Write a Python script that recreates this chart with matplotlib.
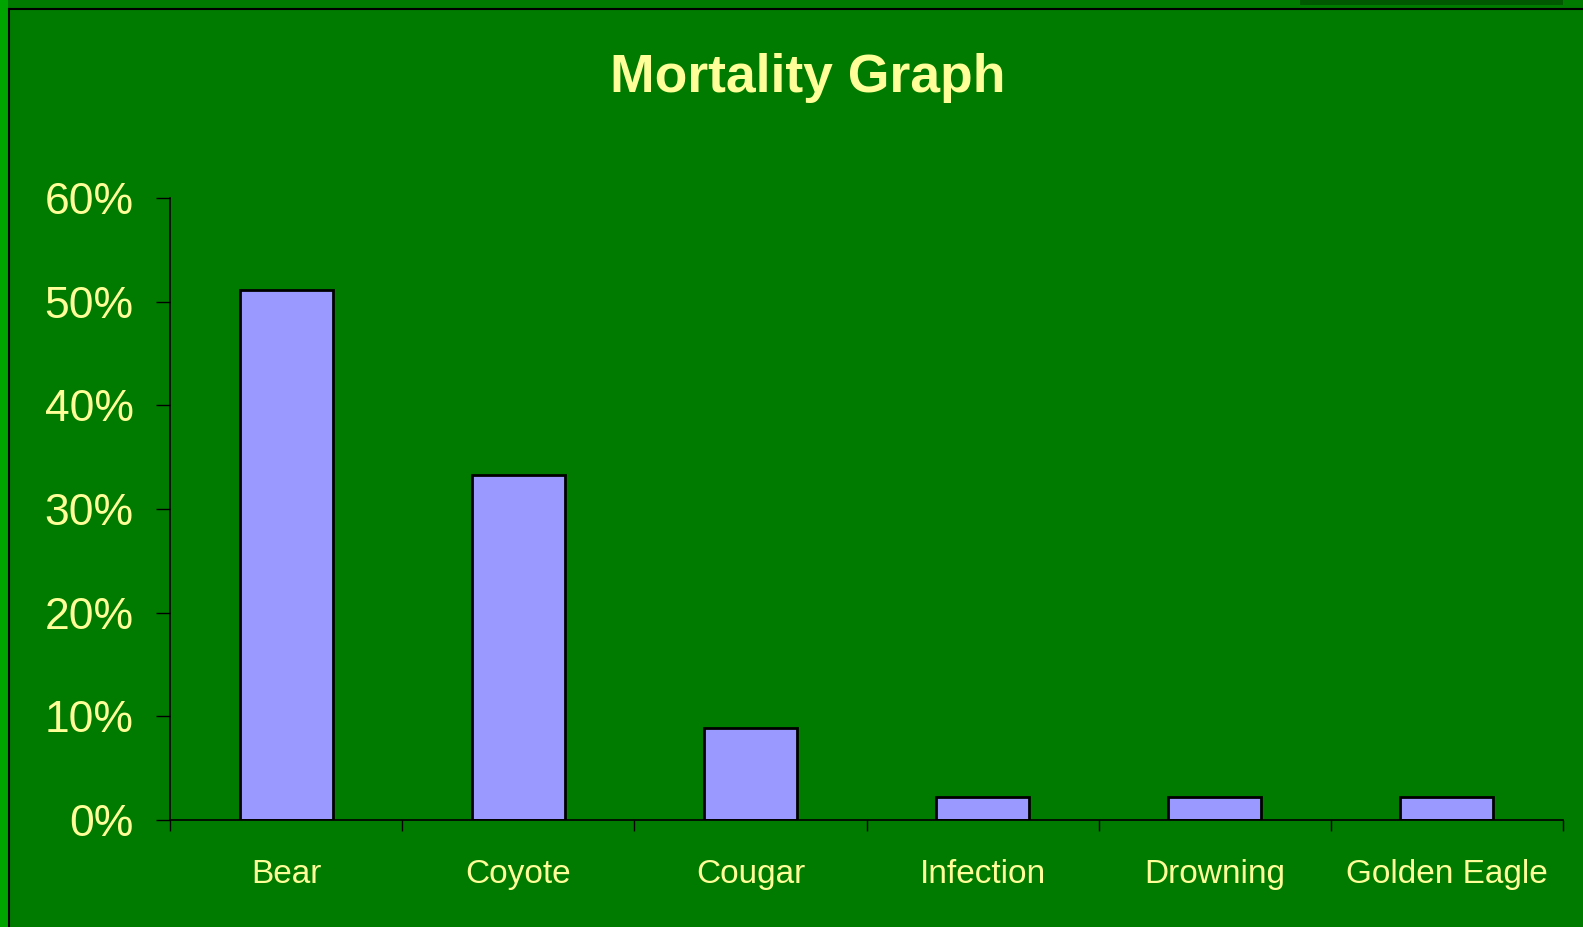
import matplotlib
matplotlib.use('Agg')
import matplotlib.pyplot as plt
from matplotlib.patches import Rectangle
from matplotlib.ticker import FuncFormatter

categories = ['Bear', 'Coyote', 'Cougar', 'Infection', 'Drowning', 'Golden Eagle']
mortality = [51.1, 33.3, 8.9, 2.2, 2.2, 2.2]  # percent
y_ticks = [0, 10, 20, 30, 40, 50, 60]

bg = '#007B00'
txt = '#FFFF99'

plt.rcParams['font.family'] = ['Liberation Sans', 'DejaVu Sans']

W, H = 1583, 927
fig = plt.figure(figsize=(W / 100, H / 100), dpi=100)
fig.patch.set_facecolor(bg)

# slide decoration: bright strip on the left and a thin black frame
fig.add_artist(Rectangle((0, 0), 8 / W, 1, transform=fig.transFigure,
                         facecolor='#00A400', edgecolor='none'))
fig.add_artist(Rectangle((1300 / W, 1 - 5 / H), 263 / W, 5 / H, transform=fig.transFigure,
                         facecolor='#005800', edgecolor='none'))
fig.add_artist(plt.Line2D([8.5 / W, 8.5 / W], [0, 1 - 8.5 / H], transform=fig.transFigure,
                          color='black', lw=1.5))
fig.add_artist(plt.Line2D([8.5 / W, 1], [1 - 8.5 / H, 1 - 8.5 / H], transform=fig.transFigure,
                          color='black', lw=1.5))

ax = fig.add_axes([170 / W, 1 - 820 / H, (1563 - 170) / W, (820 - 198) / H])
ax.set_facecolor(bg)

xpos = [i + 0.5 for i in range(len(categories))]
ax.bar(xpos, mortality, width=0.4, color='#9999FF', edgecolor='black', linewidth=2)

ax.set_xlim(0, len(categories))
ax.set_ylim(0, 60)
ax.set_yticks(y_ticks)
ax.yaxis.set_major_formatter(FuncFormatter(lambda v, p: f'{int(v)}%'))
ax.tick_params(axis='y', colors='black', labelcolor=txt, labelsize=32,
               length=10, width=1, pad=16)

ax.set_xticks(range(len(categories) + 1))
ax.set_xticklabels([])
ax.set_xticks(xpos, minor=True)
ax.set_xticklabels(categories, minor=True)
ax.tick_params(axis='x', which='major', colors='black', length=8, width=1)
ax.tick_params(axis='x', which='minor', length=0, labelcolor=txt, labelsize=24, pad=28)

for s in ['top', 'right']:
    ax.spines[s].set_visible(False)
for s in ['left', 'bottom']:
    ax.spines[s].set_color('black')
    ax.spines[s].set_linewidth(1.2)

fig.text(808 / W, 1 - 78 / H, 'Mortality Graph', color=txt, fontsize=38.5,
         fontweight='bold', ha='center', va='center')

fig.savefig('out.png', dpi=100, facecolor=fig.get_facecolor())
